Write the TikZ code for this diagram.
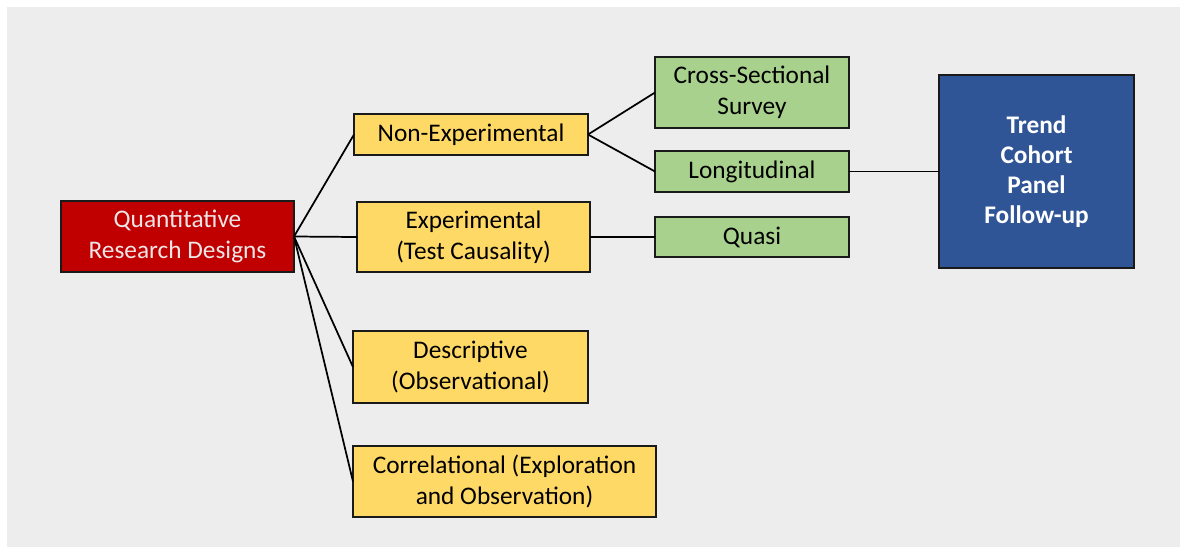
\documentclass[tikz,border=0pt]{standalone}
\usepackage{fontspec}
\setmainfont{Carlito}
\definecolor{bgc}{HTML}{EDEDED}
\definecolor{redc}{HTML}{C00000}
\definecolor{yelc}{HTML}{FFD966}
\definecolor{grnc}{HTML}{A9D18E}
\definecolor{bluc}{HTML}{2F5597}
\definecolor{edgec}{HTML}{1A1A1A}
\definecolor{lighttext}{HTML}{EEE6E6}
\tikzset{
  box/.style={draw=edgec, line width=1pt, inner sep=0pt, outer sep=0pt, align=center,
    font=\fontsize{19}{23}\selectfont, text=black},
  redbox/.style={box, fill=redc, text=lighttext},
  yelbox/.style={box, fill=yelc},
  grnbox/.style={box, fill=grnc},
  blubox/.style={box, fill=bluc, text=white, font=\fontsize{19}{22.5}\selectfont\bfseries},
  link/.style={draw=black, line width=1.3pt},
}
\begin{document}
\begin{tikzpicture}[x=0.75pt, y=-0.75pt]
\useasboundingbox (0,0) rectangle (1180,547);
\fill[bgc] (7,7) rectangle (1180,547);

\node[redbox, minimum width=174.75pt, minimum height=53.25pt] (q) at (177.5,236.5) {Quantitative\\Research Designs};
\node[yelbox, minimum width=175.5pt, minimum height=30.75pt] (ne) at (471,134.5) {Non-Experimental};
\node[yelbox, minimum width=174.75pt, minimum height=52.5pt] (ex) at (473.5,237) {Experimental\\(Test Causality)};
\node[yelbox, minimum width=176.25pt, minimum height=54pt] (de) at (470.5,367) {Descriptive\\(Observational)};
\node[yelbox, minimum width=227.25pt, minimum height=53.25pt] (co) at (504.5,481.5) {Correlational (Exploration\\and Observation)};
\node[grnbox, minimum width=145.5pt, minimum height=53.25pt] (cs) at (752,92.5) {Cross-Sectional\\Survey};
\node[grnbox, minimum width=145.5pt, minimum height=30.75pt] (lo) at (752,171.5) {Longitudinal};
\node[grnbox, minimum width=145.5pt, minimum height=30pt] (qu) at (752,237) {Quasi};
\node[blubox, minimum width=146.25pt, minimum height=144.75pt] (bl) at (1036.5,171.5) {Trend\\Cohort\\Panel\\Follow-up};

\draw[link] (q.east) -- (ne.west);
\draw[link] (q.east) -- (ex.west);
\draw[link] (q.east) -- (de.west);
\draw[link] (q.east) -- (co.west);
\draw[link] (ne.east) -- (cs.west);
\draw[link] (ne.east) -- (lo.west);
\draw[link] (ex.east) -- (qu.west);
\draw[link] (lo.east) -- (bl.west);
\end{tikzpicture}
\end{document}
